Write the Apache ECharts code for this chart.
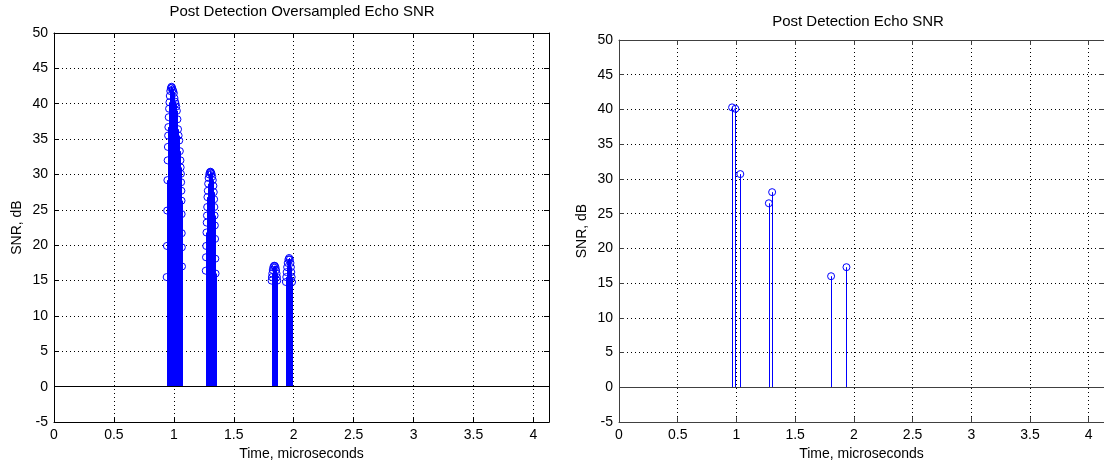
<!DOCTYPE html>
<html><head><meta charset="utf-8">
<script src="https://cdn.jsdelivr.net/npm/echarts@6/dist/echarts.min.js"></script>
<style>html,body{margin:0;padding:0;background:#fff}#c{width:1104px;height:466px}</style>
</head><body><div id="c"></div>
<script>
const leftTitle = 'Post Detection Oversampled Echo SNR';
const rightTitle = 'Post Detection Echo SNR';
const xName = 'Time, microseconds';
const yName = 'SNR, dB';
const xTickLabels = ['0','0.5','1','1.5','2','2.5','3','3.5','4'];
const yTickLabels = ['-5','0','5','10','15','20','25','30','35','40','45','50'];

// Oversampled echo (left plot): four clusters of samples
const c1Time = [0.940,0.942,0.944,0.946,0.948,0.950,0.952,0.954,0.957,0.960,0.963,0.966,0.970,0.975,0.980,0.985,0.990,0.995,
                1.000,1.005,1.010,1.015,1.020,1.025,1.030,1.035,1.040,1.045,1.050,1.055,1.057,1.059,1.061,1.063,1.064,1.065,1.066,1.067,1.068];
const c1Snr  = [15.5,19.9,24.9,29.2,32.0,33.9,35.5,36.7,38.1,39.3,40.2,41.1,41.8,42.2,42.4,42.3,42.0,41.8,
                41.5,40.8,40.3,40.0,39.6,39.0,37.8,36.4,35.5,34.8,33.3,32.0,31.0,30.1,28.9,27.7,26.3,24.4,21.7,19.7,17.0];
const c2Time = [1.266,1.268,1.270,1.272,1.274,1.276,1.278,1.280,1.283,1.286,1.290,1.295,1.300,1.305,1.310,1.315,1.320,1.325,1.330,1.333,1.336,1.338,1.340,1.342,1.344,1.346,1.348];
const c2Snr  = [16.4,18.3,19.9,21.8,23.2,24.2,25.4,26.8,27.7,28.7,29.5,30.0,30.3,30.4,30.3,30.1,29.7,29.2,28.4,27.5,26.5,25.4,24.2,22.8,20.9,18.1,16.0];
const c3Time = [1.815,1.818,1.821,1.825,1.830,1.836,1.842,1.848,1.853,1.857,1.860,1.863];
const c3Snr  = [15.0,15.5,16.0,16.5,16.9,17.1,17.1,16.9,16.5,16.0,15.5,15.0];
const c4Time = [1.935,1.938,1.941,1.945,1.950,1.956,1.962,1.968,1.973,1.977,1.980,1.983,1.986];
const c4Snr  = [14.8,15.5,16.2,16.9,17.5,18.0,18.2,18.0,17.5,16.9,16.2,15.5,14.8];

// Post detection echo (right plot)
const echoTime = [0.963,0.991,1.033,1.276,1.304,1.806,1.937];
const echoSnr  = [40.3,40.1,30.7,26.5,28.1,16.0,17.3];

const X_MAX = 4.13;
const BLUE = '#0000ff';
const FONT = 'Liberation Sans, Arial, sans-serif';

function pairs(t, v){ return t.map((x,i)=>[x, v[i]]); }
const overData = [].concat(pairs(c1Time,c1Snr), pairs(c2Time,c2Snr), pairs(c3Time,c3Snr), pairs(c4Time,c4Snr));
const echoData = pairs(echoTime, echoSnr);

function fmtX(v){ const i = xTickLabels.indexOf(String(+v.toFixed(2))); return i>=0 ? xTickLabels[i] : ''; }
function fmtY(v){ const i = yTickLabels.indexOf(String(Math.round(v))); return i>=0 ? yTickLabels[i] : ''; }

function xAxes(gi, axisColor){
  const base = {gridIndex: gi, type:'value', min:0, max:X_MAX, interval:0.5,
    axisLine:{show:true, onZero:false, lineStyle:{color:axisColor, width:1}},
    axisTick:{show:true, inside:true, length:5, lineStyle:{color:axisColor}}};
  return [
    Object.assign({}, base, {position:'bottom', name:xName, nameLocation:'middle', nameGap:24,
      nameTextStyle:{color:'#000', fontFamily:FONT, fontSize:14},
      axisLabel:{show:true, color:'#000', fontFamily:FONT, fontSize:14, margin:6, formatter:fmtX, showMaxLabel:false},
      splitLine:{show:true, lineStyle:{color:'#000', type:[1,3], width:1}}}),
    Object.assign({}, base, {position:'top', axisLabel:{show:false}, splitLine:{show:false}})
  ];
}
function yAxes(gi, axisColor){
  const base = {gridIndex: gi, type:'value', min:-5, max:50, interval:5,
    axisLine:{show:true, onZero:false, lineStyle:{color:axisColor, width:1}},
    axisTick:{show:true, inside:true, length:5, lineStyle:{color:axisColor}}};
  return [
    Object.assign({}, base, {position:'left', name:yName, nameLocation:'middle', nameGap:30, nameRotate:90,
      nameTextStyle:{color:'#000', fontFamily:FONT, fontSize:14},
      axisLabel:{show:true, color:'#000', fontFamily:FONT, fontSize:14, margin:6, formatter:fmtY},
      splitLine:{show:true, lineStyle:{color:'#000', type:[1,3], width:1}}}),
    Object.assign({}, base, {position:'right', axisLabel:{show:false}, splitLine:{show:false}})
  ];
}

function stems(data, xi, yi, color){
  return {type:'custom', xAxisIndex:xi, yAxisIndex:yi, data, silent:true, animation:false, z:3,
    renderItem:(params, api)=>{
      const p0 = api.coord([api.value(0), 0]);
      const p1 = api.coord([api.value(0), api.value(1)]);
      const x = Math.round(p0[0]) + 0.5;
      return {type:'line', shape:{x1:x, y1:p0[1], x2:x, y2:p1[1]}, style:{stroke:color, lineWidth:1}};
    }};
}
function markers(data, xi, yi, baseColor){
  return {type:'scatter', xAxisIndex:xi, yAxisIndex:yi, data, symbol:'circle', symbolSize:7, silent:true, animation:false, z:4,
    itemStyle:{color:'rgba(0,0,0,0)', borderColor:BLUE, borderWidth:1, opacity:1},
    markLine:{silent:true, symbol:['none','none'], label:{show:false}, animation:false,
      lineStyle:{color:baseColor, type:'solid', width:1}, data:[{yAxis:0}]}};
}

const chart = echarts.init(document.getElementById('c'), null, {renderer:'canvas'});
chart.setOption({
  animation:false,
  backgroundColor:'#fff',
  grid:[
    {left:54, top:33, width:495, height:390, show:false},
    {left:619, top:40, width:490, height:384, show:false}
  ],
  xAxis: [].concat(xAxes(0,'#000'), xAxes(1,'#404040')),
  yAxis: [].concat(yAxes(0,'#000'), yAxes(1,'#404040')),
  graphic:[
    {type:'text', x:302, y:12, style:{text:leftTitle, fill:'#000', font:'15px '+FONT, textAlign:'center', textVerticalAlign:'middle'}},
    {type:'text', x:858, y:22, style:{text:rightTitle, fill:'#000', font:'15px '+FONT, textAlign:'center', textVerticalAlign:'middle'}}
  ],
  series:[
    stems(overData, 0, 0, BLUE),
    markers(overData, 0, 0, '#000'),
    stems(echoData, 2, 2, BLUE),
    markers(echoData, 2, 2, '#404040')
  ]
});
</script></body></html>
